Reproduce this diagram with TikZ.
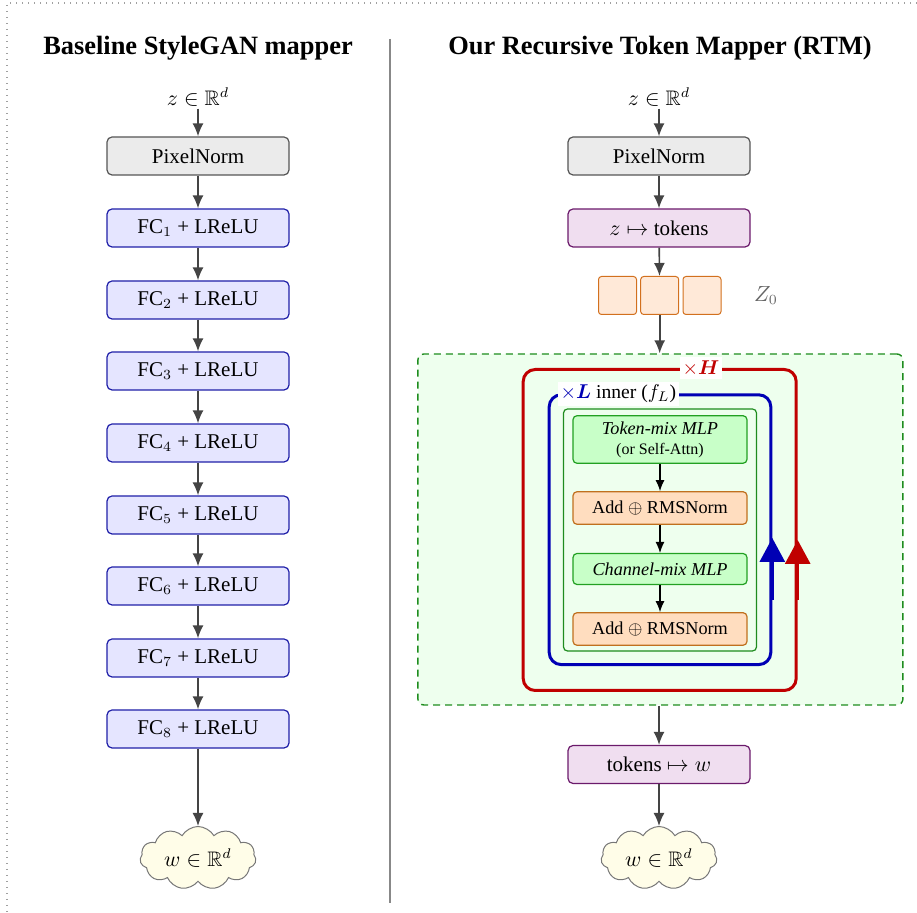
\documentclass[tikz,border=0pt]{standalone}
\usepackage{amsmath,amssymb}
\usepackage{fontspec}
\setmainfont{Liberation Serif}
\usetikzlibrary{arrows.meta,shapes.symbols}

\definecolor{arrowc}{HTML}{444444}
\definecolor{framec}{HTML}{A0A0A0}
\definecolor{sepc}{HTML}{888888}
\definecolor{pnfill}{HTML}{EBEBEB}
\definecolor{pndraw}{HTML}{555555}
\definecolor{fcfill}{HTML}{E5E5FF}
\definecolor{fcdraw}{HTML}{1F1FA8}
\definecolor{mapfill}{HTML}{F0DEF0}
\definecolor{mapdraw}{HTML}{6B1A6B}
\definecolor{tokfill}{HTML}{FFE9D8}
\definecolor{tokdraw}{HTML}{D2701E}
\definecolor{regfill}{HTML}{EEFFEE}
\definecolor{regdraw}{HTML}{1E8C1E}
\definecolor{loopH}{HTML}{C00000}
\definecolor{loopL}{HTML}{0000B4}
\definecolor{mixfill}{HTML}{C8FFC8}
\definecolor{mixdraw}{HTML}{22A022}
\definecolor{addfill}{HTML}{FFDDBF}
\definecolor{adddraw}{HTML}{C0701E}
\definecolor{cloudfill}{HTML}{FFFDE8}
\definecolor{clouddraw}{HTML}{777777}
\definecolor{zlabel}{HTML}{666666}

\begin{document}
\begin{tikzpicture}[x=0.5pt,y=-0.5pt,
  flow/.style={draw=arrowc, line width=0.8pt, -{Latex[length=6.5pt,width=5.5pt]}},
  thinflow/.style={draw=black, line width=0.55pt, -{Latex[length=5.5pt,width=4.5pt]}},
  looparrow/.style={line width=1.5pt, -{Triangle[length=12pt,width=12.5pt]}},
  stage/.style={rectangle, rounded corners=2.5pt, minimum width=91pt, minimum height=19pt,
    inner sep=0pt, line width=0.6pt, font=\fontsize{10.5}{12.6}\selectfont},
  normbox/.style={stage, fill=pnfill, draw=pndraw},
  fcbox/.style={stage, fill=fcfill, draw=fcdraw},
  mapbox/.style={stage, fill=mapfill, draw=mapdraw},
  tokcell/.style={rectangle, rounded corners=1.5pt, minimum size=19pt, inner sep=0pt,
    fill=tokfill, draw=tokdraw, line width=0.5pt},
  outcloud/.style={cloud, cloud puffs=11, cloud puff arc=120, aspect=2,
    minimum width=58pt, minimum height=31.5pt, inner sep=0pt,
    fill=cloudfill, draw=clouddraw, line width=0.5pt, font=\fontsize{10.5}{12.6}\selectfont},
  heading/.style={font=\fontsize{13.2}{16}\selectfont\bfseries},
  lbl/.style={font=\fontsize{10.5}{12.6}\selectfont, inner sep=1pt},
  innerbox/.style={rectangle, rounded corners=2pt, minimum width=87pt, inner sep=0pt,
    line width=0.6pt, font=\fontsize{9.1}{11}\selectfont},
  mixbox/.style={innerbox, fill=mixfill, draw=mixdraw},
  addbox/.style={innerbox, fill=addfill, draw=adddraw},
  looplabel/.style={fill=white, inner sep=1.5pt, font=\fontsize{9.8}{11.8}\selectfont}
]
\useasboundingbox (0,0) rectangle (917,913);

% dotted outer frame
\draw[framec, line width=0.7pt, dash pattern=on 0.7pt off 2.3pt]
  (917,3) -- (7,3) -- (7,913);

% column separator
\coordinate (septop) at (390,39);
\coordinate (sepbot) at (390,903);
\draw[sepc, line width=0.8pt] (septop) -- (sepbot);

% ---------- left column: baseline mapper ----------
\node[heading] (tl) at (198,48) {Baseline StyleGAN mapper};
\node[lbl] (zl) at (198,97) {$z \in \mathbb{R}^d$};
\node[normbox] (pnl) at (198,156) {PixelNorm};
\node[fcbox] (fc1) at (198,228) {FC$_1$ + LReLU};
\node[fcbox] (fc2) at (198,300) {FC$_2$ + LReLU};
\node[fcbox] (fc3) at (198,371) {FC$_3$ + LReLU};
\node[fcbox] (fc4) at (198,443) {FC$_4$ + LReLU};
\node[fcbox] (fc5) at (198,515) {FC$_5$ + LReLU};
\node[fcbox] (fc6) at (198,586) {FC$_6$ + LReLU};
\node[fcbox] (fc7) at (198,658) {FC$_7$ + LReLU};
\node[fcbox] (fc8) at (198,729) {FC$_8$ + LReLU};
\node[outcloud] (wl) at (198,858) {$w \in \mathbb{R}^d$};

\draw[flow] (zl) -- (pnl);
\draw[flow] (pnl) -- (fc1);
\draw[flow] (fc1) -- (fc2);
\draw[flow] (fc2) -- (fc3);
\draw[flow] (fc3) -- (fc4);
\draw[flow] (fc4) -- (fc5);
\draw[flow] (fc5) -- (fc6);
\draw[flow] (fc6) -- (fc7);
\draw[flow] (fc7) -- (fc8);
\draw[flow] (fc8) -- (wl);

% ---------- right column: recursive token mapper ----------
\node[heading] (tr) at (660,48) {Our Recursive Token Mapper (RTM)};
\node[lbl] (zr) at (659,97) {$z \in \mathbb{R}^d$};
\node[normbox] (pnr) at (659,156) {PixelNorm};
\node[mapbox] (z2t) at (659,228) {$z \mapsto$ tokens};
\node[tokcell] (tk1) at (617.5,295.5) {};
\node[tokcell] (tk2) at (659.7,295.5) {};
\node[tokcell] (tk3) at (702,295.5) {};
\node[lbl, text=zlabel] (z0) at (766,295.5) {$Z_0$};

% recursion region
\node[rectangle, rounded corners=3pt, minimum width=242.5pt, minimum height=175.5pt,
      fill=regfill, draw=regdraw, dash pattern=on 3.5pt off 2.5pt, line width=0.7pt]
      (region) at (660.4,529.5) {};
\node[rectangle, rounded corners=6pt, minimum width=136.5pt, minimum height=160.5pt,
      draw=loopH, line width=1.5pt] (hloop) at (659.7,530) {};
\node[rectangle, rounded corners=6pt, minimum width=110.8pt, minimum height=134.9pt,
      draw=loopL, line width=1.5pt] (lloop) at (660,529.7) {};
\node[rectangle, rounded corners=2pt, minimum width=96.5pt, minimum height=121pt,
      draw=regdraw, line width=0.6pt] (block) at (660,530) {};

% loop direction markers on the right sides
\coordinate (hfrom) at (hloop.east |- 0,600);
\coordinate (hto) at (hloop.east |- 0,540);
\coordinate (lfrom) at (lloop.east |- 0,600);
\coordinate (lto) at (lloop.east |- 0,538);
\draw[looparrow, loopH] (hfrom) -- (hto);
\draw[looparrow, loopL] (lfrom) -- (lto);

\node[looplabel, text=loopH] (hlab) at (701,368) {$\times\boldsymbol{H}$};
\node[looplabel] (llab) at (618.4,394) {\textcolor{loopL}{$\times\boldsymbol{L}$} inner ($f_L$)};

% inner block
\node[mixbox, minimum height=23.8pt, align=center] (tmix) at (660,439.5)
  {\textit{Token-mix MLP}\\[-1pt]{\fontsize{8}{9.6}\selectfont (or Self-Attn)}};
\node[addbox, minimum height=16.3pt] (add1) at (660,508) {Add $\oplus$ RMSNorm};
\node[mixbox, minimum height=15.5pt] (cmix) at (660,569) {\textit{Channel-mix MLP}};
\node[addbox, minimum height=16.3pt] (add2) at (660,629) {Add $\oplus$ RMSNorm};

\draw[thinflow] (tmix) -- (add1);
\draw[thinflow] (add1) -- (cmix);
\draw[thinflow] (cmix) -- (add2);

\node[mapbox] (t2w) at (659,764.5) {tokens $\mapsto w$};
\node[outcloud] (wr) at (659,858) {$w \in \mathbb{R}^d$};

\draw[flow] (zr) -- (pnr);
\draw[flow] (pnr) -- (z2t);
\draw[flow] (z2t) -- (tk2);
\draw[flow] (tk2) -- (tk2 |- region.north);
\draw[flow] (region.south -| t2w) -- (t2w);
\draw[flow] (t2w) -- (wr);
\end{tikzpicture}
\end{document}
